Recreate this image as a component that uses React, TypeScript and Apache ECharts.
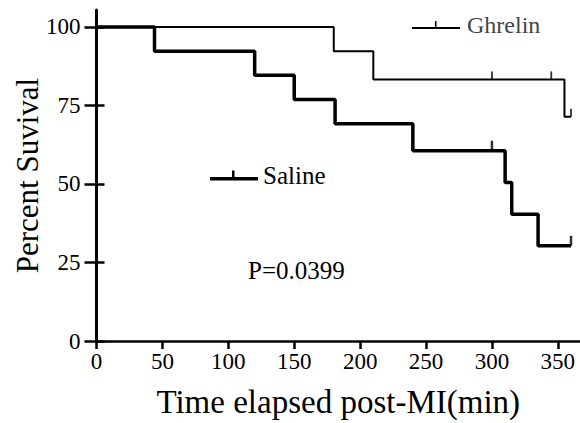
import React, { useEffect, useRef } from "react";
import * as echarts from "echarts";

const xTicks = [0, 50, 100, 150, 200, 250, 300, 350];
const yTicks = [0, 25, 50, 75, 100];

const ghrelinTimes = [0, 180, 210, 355, 360];
const ghrelinSurv = [100, 92.3, 83.3, 71.4, 71.4];
const ghrelinCensorTimes = [300, 345, 360];
const ghrelinCensorSurv = [83.3, 83.3, 71.4];

const salineTimes = [0, 44, 120, 150, 181, 240, 310, 315, 335, 360];
const salineSurv = [100, 92.3, 84.6, 76.9, 69.2, 60.6, 50.5, 40.4, 30.3, 30.3];
const salineCensorTimes = [300, 360];
const salineCensorSurv = [60.6, 30.3];

const pValueText = "P=0.0399";

const FONT = "Liberation Serif";

const zip = (a: number[], b: number[]) => a.map((v, i) => [v, b[i]]);

export default function App() {
  const ref = useRef<HTMLDivElement>(null);
  useEffect(() => {
    if (!ref.current) return;
    const chart = echarts.init(ref.current, undefined, { renderer: "svg" });
    const pText = {
      type: "text",
      x: 248,
      y: 270,
      style: { text: pValueText, font: `25px "${FONT}"`, fill: "#000", verticalAlign: "middle" },
    };
    chart.setOption({
      animation: false,
      backgroundColor: "#fff",
      textStyle: { fontFamily: FONT },
      grid: { left: 96.5, right: 0, top: 10, bottom: 82 },
      xAxis: {
        type: "value",
        min: 0,
        max: 366.8,
        splitLine: { show: false },
        axisLine: { show: true, onZero: false, lineStyle: { color: "#000", width: 2.5 } },
        axisTick: { show: true, length: 8, customValues: xTicks, lineStyle: { color: "#000", width: 2.5 } },
        axisLabel: { show: false },
        name: "Time elapsed post-MI(min)",
        nameLocation: "middle",
        nameGap: 44,
        nameTextStyle: { color: "#000", fontFamily: FONT, fontSize: 33 },
      },
      yAxis: [
        {
          type: "value",
          min: 0,
          max: 105.4,
          splitLine: { show: false },
          axisLine: { show: true, onZero: false, lineStyle: { color: "#000", width: 3 } },
          axisTick: { show: true, length: 12, customValues: yTicks, lineStyle: { color: "#000", width: 2.5 } },
          axisLabel: { show: false },
          name: "Percent Suvival",
          nameLocation: "middle",
          nameRotate: 90,
          nameGap: 54,
          nameTextStyle: { color: "#000", fontFamily: FONT, fontSize: 31 },
        },
        {
          type: "value",
          min: 0,
          max: 105.4,
          position: "left",
          splitLine: { show: false },
          axisLine: { show: false },
          axisTick: { show: true, inside: true, length: 8, customValues: yTicks, lineStyle: { color: "#000", width: 2.5 } },
          axisLabel: { show: false },
        },
      ],
      legend: [
        {
          data: ["Ghrelin"],
          left: 412,
          top: 13,
          padding: 0,
          itemWidth: 48,
          itemHeight: 8,
          itemGap: 0,
          icon: "path://M0,6h48v2h-48z M23,0h1.5v6h-1.5z",
          itemStyle: { color: "#000", borderWidth: 0 },
          textStyle: { color: "#444", fontFamily: FONT, fontSize: 24, padding: [0, 0, 0, 2] },
        },
        {
          data: ["Saline"],
          left: 210,
          top: 163,
          padding: 0,
          itemWidth: 48,
          itemHeight: 10,
          itemGap: 0,
          icon: "path://M0,6.5h48v3.5h-48z M22,0h2.5v7h-2.5z",
          itemStyle: { color: "#000", borderWidth: 0 },
          textStyle: { color: "#000", fontFamily: FONT, fontSize: 25, padding: [0, 0, 0, 0] },
        },
      ],
      graphic: [pText],
      series: [
        {
          name: "Ghrelin",
          type: "line",
          step: "end",
          symbol: "none",
          color: "#000",
          lineStyle: { color: "#000", width: 2 },
          data: zip(ghrelinTimes, ghrelinSurv),
          z: 3,
        },
        {
          name: "Saline",
          type: "line",
          step: "end",
          symbol: "none",
          color: "#000",
          lineStyle: { color: "#000", width: 3.5 },
          data: zip(salineTimes, salineSurv),
          z: 4,
        },
        {
          name: "Ghrelin censored",
          type: "scatter",
          symbol: "rect",
          symbolSize: [1.8, 8],
          symbolOffset: [0, -4],
          itemStyle: { color: "#000" },
          data: zip(ghrelinCensorTimes, ghrelinCensorSurv),
          z: 5,
        },
        {
          name: "Saline censored",
          type: "scatter",
          symbol: "rect",
          symbolSize: [2.5, 10],
          symbolOffset: [0, -5],
          itemStyle: { color: "#000" },
          data: zip(salineCensorTimes, salineCensorSurv),
          z: 5,
        },
      ],
    });

    // Tick labels placed through the axes' own scales
    const axisY = chart.convertToPixel({ yAxisIndex: 0 }, 0) as number;
    const axisX = chart.convertToPixel({ xAxisIndex: 0 }, 0) as number;
    const tickFont = `23px "${FONT}"`;
    const xLabels = xTicks.map((v) => ({
      type: "text",
      x: chart.convertToPixel({ xAxisIndex: 0 }, v) as number,
      y: axisY + 9,
      style: { text: String(v), font: tickFont, fill: "#000", align: "center", verticalAlign: "top" },
    }));
    const yLabels = yTicks.map((v) => ({
      type: "text",
      x: axisX - 16,
      y: chart.convertToPixel({ yAxisIndex: 0 }, v) as number,
      style: { text: String(v), font: tickFont, fill: "#000", align: "right", verticalAlign: "middle" },
    }));
    chart.setOption({ graphic: [pText, ...xLabels, ...yLabels] });

    return () => chart.dispose();
  }, []);
  return (
    <div
      ref={ref}
      style={{ position: "fixed", left: 0, top: 0, width: 580, height: 423, background: "#fff" }}
    />
  );
}
